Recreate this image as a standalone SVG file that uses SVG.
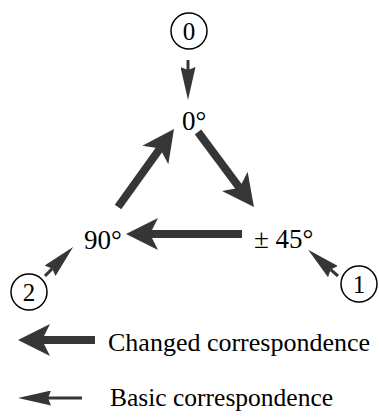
<svg xmlns="http://www.w3.org/2000/svg" width="379" height="419" viewBox="0 0 379 419">
  <style>
    .bg { fill: #ffffff; }
    .circ { fill: none; stroke: #000; stroke-width: 1.5; }
    text { font-family: 'Liberation Serif', 'Times New Roman', serif; fill: #000; }
    .num { font-size: 25px; text-anchor: middle; }
    .lbl { font-size: 27px; }
    .leg { font-size: 26px; }
    .leg2 { font-size: 25.5px; }
    .big { stroke: #363636; stroke-width: 8; fill: none; marker-end: url(#headBig); }
    .small { stroke: #363636; stroke-width: 3; fill: none; marker-end: url(#headSmall); }
  </style>
  <defs>
    <marker id="headBig" markerUnits="userSpaceOnUse" viewBox="0 0 32 32" markerWidth="32" markerHeight="32" refX="8" refY="16" orient="auto">
      <path d="M0,0 L32,16 L0,32 L8,16 Z" fill="#363636"/>
    </marker>
    <marker id="headSmall" markerUnits="userSpaceOnUse" viewBox="0 0 33 15" markerWidth="33" markerHeight="15" refX="3" refY="7.5" orient="auto">
      <path d="M0,0 L33,7.5 L0,15 L3,7.5 Z" fill="#363636"/>
    </marker>
  </defs>
  <rect class="bg" x="0" y="0" width="379" height="419"/>

  <g id="node-c0">
    <circle class="circ" cx="189" cy="31" r="18"/>
    <text class="num" x="189" y="40">0</text>
  </g>
  <g id="node-c1">
    <circle class="circ" cx="359" cy="284" r="18"/>
    <text class="num" x="359" y="293">1</text>
  </g>
  <g id="node-c2">
    <circle class="circ" cx="29" cy="292" r="18"/>
    <text class="num" x="29" y="301">2</text>
  </g>
  <g id="node-0deg">
    <text class="lbl" x="182" y="130">0°</text>
  </g>
  <g id="node-90deg">
    <text class="lbl" x="84" y="249">90°</text>
  </g>
  <g id="node-45deg">
    <text class="lbl" x="254" y="248">± 45°</text>
  </g>
  <g id="legend">
    <text class="leg" x="108" y="351">Changed correspondence</text>
    <text class="leg2" x="110" y="406">Basic correspondence</text>
  </g>

  <g id="connectors">
    <line class="big" x1="118" y1="207" x2="160" y2="148.5"/>
    <line class="big" x1="198" y1="132" x2="239.6" y2="187.8"/>
    <line class="big" x1="242" y1="234" x2="150" y2="234"/>
    <line class="small" x1="188" y1="60" x2="188" y2="70"/>
    <line class="small" x1="45" y1="276" x2="52.2" y2="268.6"/>
    <line class="small" x1="338" y1="276" x2="330.7" y2="269.6"/>
    <line class="big" x1="95" y1="340" x2="42" y2="340"/>
    <line class="small" x1="82" y1="398" x2="48" y2="398"/>
  </g>
</svg>
